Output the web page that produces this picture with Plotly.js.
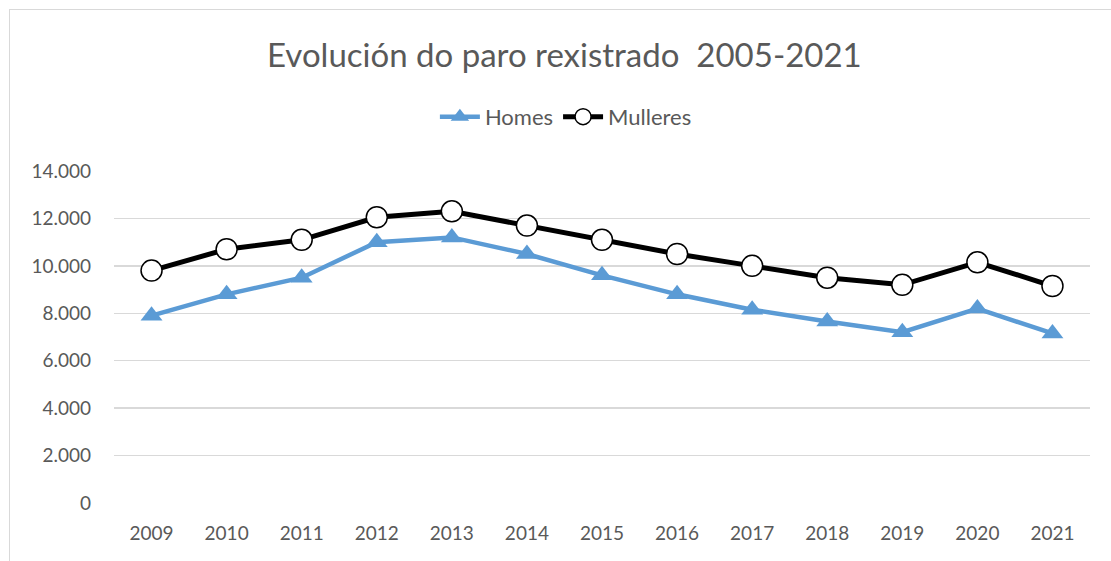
<!DOCTYPE html>
<html>
<head>
<meta charset="utf-8">
<script src="https://cdn.plot.ly/plotly-3.0.1.min.js"></script>
<style>
html,body{margin:0;padding:0;background:#fff;}
#wrap{position:relative;width:1111px;height:561px;overflow:hidden;}
#chart{position:absolute;left:0;top:0;width:1111px;height:561px;}
#frame{position:absolute;left:9px;top:9px;width:1200px;height:600px;border-left:1.5px solid #d9d9d9;border-top:1.5px solid #d9d9d9;pointer-events:none;}
</style>
</head>
<body>
<div id="wrap"><div id="chart"></div><div id="frame"></div></div>
<script>
const years = ["2009","2010","2011","2012","2013","2014","2015","2016","2017","2018","2019","2020","2021"];
const homes = [7900, 8800, 9500, 11000, 11200, 10500, 9600, 8800, 8150, 7650, 7200, 8200, 7150];
const mulleres = [9800, 10700, 11100, 12050, 12300, 11700, 11100, 10500, 10000, 9500, 9200, 10150, 9150];
const yTicks = [0, 2000, 4000, 6000, 8000, 10000, 12000, 14000];
const yTickText = ["0", "2.000", "4.000", "6.000", "8.000", "10.000", "12.000", "14.000"];

const font = "Lato, 'Open Sans', sans-serif";
const traces = [
  {x: years, y: homes, name: "Homes", type: "scatter", mode: "lines+markers",
   line: {color: "#5B9BD5", width: 4.5},
   marker: {symbol: "triangle-up", size: 19, color: "#5B9BD5"}},
  {x: years, y: mulleres, name: "Mulleres", type: "scatter", mode: "lines+markers",
   line: {color: "#000000", width: 5},
   marker: {symbol: "circle", size: 21, color: "#ffffff", line: {color: "#000000", width: 1.5}}}
];
const layout = {
  width: 1111, height: 561,
  margin: {l: 114, r: 21, t: 171, b: 58},
  paper_bgcolor: "#ffffff", plot_bgcolor: "#ffffff",
  title: {text: "Evolución do paro rexistrado  2005-2021", x: 0.508, xanchor: "center", y: 0.902, yanchor: "middle",
          font: {family: font, size: 33, color: "#595959"}},
  showlegend: true,
  legend: {orientation: "h", x: 0.463, xanchor: "center", y: 1.163, yanchor: "middle",
           font: {family: font, size: 22, color: "#595959"}, itemwidth: 40, traceorder: "normal"},
  xaxis: {type: "category", range: [-0.5, 12.5], showgrid: false, zeroline: false, showline: false,
          ticks: "", tickfont: {family: font, size: 19, color: "#595959"}, ticklabelstandoff: 17},
  yaxis: {range: [0, 14000], tickvals: yTicks, ticktext: yTickText, showgrid: true, gridcolor: "#d9d9d9", gridwidth: 1.5,
          zeroline: false, showline: false, ticks: "", tickfont: {family: font, size: 19, color: "#595959"}, ticklabelstandoff: 22}
};
Plotly.newPlot("chart", traces, layout, {displayModeBar: false, staticPlot: true});
</script>
</body>
</html>
